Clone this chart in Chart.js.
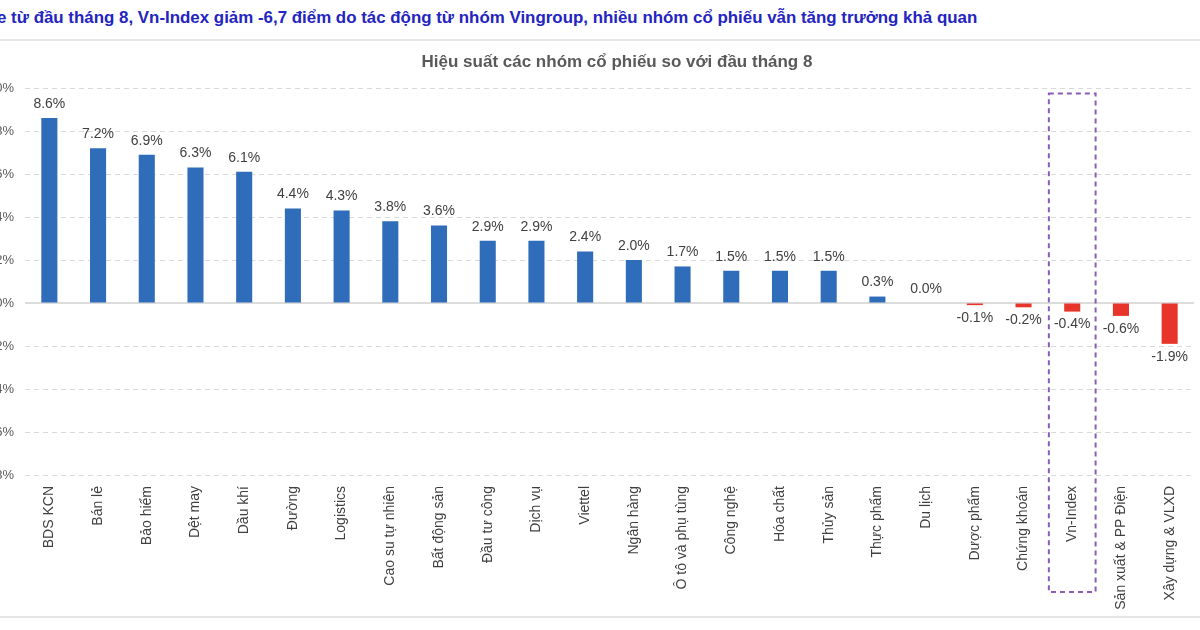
<!DOCTYPE html>
<html>
<head>
<meta charset="utf-8">
<script src="https://cdn.jsdelivr.net/npm/chart.js@4"></script>
<style>
  html, body { margin: 0; padding: 0; background: #fff; }
  body { width: 1200px; height: 630px; position: relative; overflow: hidden; font-family: "Liberation Sans", Arial, sans-serif; }
  #head { position: absolute; left: -3px; top: 8px; white-space: nowrap; font-size: 16.9px; font-weight: bold; color: #2424c0; }
  #topline { position: absolute; left: 0; top: 39px; width: 1200px; height: 2px; background: #e6e6e6; }
  #botline { position: absolute; left: 0; top: 616px; width: 1200px; height: 2px; background: #e6e6e6; }
  #title { position: absolute; left: 0; width: 1234px; top: 52px; text-align: center; font-size: 17px; font-weight: bold; color: #595959; white-space: nowrap; }
  #wrap { position: absolute; left: -30px; top: 42px; width: 1230px; height: 575px; }
</style>
</head>
<body>
<div id="head">e từ đầu tháng 8, Vn-Index giảm -6,7 điểm do tác động từ nhóm Vingroup, nhiều nhóm cổ phiếu vẫn tăng trưởng khả quan</div>
<div id="topline"></div>
<div id="wrap"><canvas id="graph01"></canvas></div>
<div id="title">Hiệu suất các nhóm cổ phiếu so với đầu tháng 8</div>
<div id="botline"></div>
<script>
// データ
const groups = ['BDS KCN', 'Bán lẻ', 'Bảo hiểm', 'Dệt may', 'Dầu khí', 'Đường', 'Logistics',
    'Cao su tự nhiên', 'Bất động sản', 'Đầu tư công', 'Dịch vụ', 'Viettel', 'Ngân hàng',
    'Ô tô và phụ tùng', 'Công nghệ', 'Hóa chất', 'Thủy sản', 'Thực phẩm', 'Du lịch',
    'Dược phẩm', 'Chứng khoán', 'Vn-Index', 'Sản xuất & PP Điện', 'Xây dựng & VLXD'];
const perf = [8.6, 7.2, 6.9, 6.3, 6.1, 4.4, 4.3, 3.8, 3.6, 2.9, 2.9, 2.4, 2.0,
    1.7, 1.5, 1.5, 1.5, 0.3, 0.0, -0.1, -0.2, -0.4, -0.6, -1.9];
const yMin = -8;
const yMax = 10;
const yStep = 2;
const highlight = 'Vn-Index';

// 値ラベル
const valueLabels = {
    id: 'valueLabels',
    afterDatasetsDraw(chart) {
        const ctx = chart.ctx;
        const meta = chart.getDatasetMeta(0);
        ctx.save();
        ctx.font = '14px "Liberation Sans", Arial, sans-serif';
        ctx.fillStyle = '#404040';
        ctx.textAlign = 'center';
        meta.data.forEach((bar, i) => {
            const v = perf[i];
            const txt = v.toFixed(1) + '%';
            if (v < 0) {
                ctx.textBaseline = 'top';
                ctx.fillText(txt, bar.x, bar.y + 6);
            } else {
                ctx.textBaseline = 'bottom';
                ctx.fillText(txt, bar.x, bar.y - 7);
            }
        });
        ctx.restore();
    }
};

// ゼロ線と Vn-Index の枠
const extras = {
    id: 'extras',
    beforeDatasetsDraw(chart) {
        const ctx = chart.ctx;
        const y = chart.scales.y;
        const y0 = y.getPixelForValue(0);
        ctx.save();
        ctx.strokeStyle = '#d0d0d0';
        ctx.lineWidth = 1.5;
        ctx.beginPath();
        ctx.moveTo(chart.chartArea.left, y0);
        ctx.lineTo(chart.chartArea.right, y0);
        ctx.stroke();
        ctx.restore();
    },
    afterDraw(chart) {
        const ctx = chart.ctx;
        const x = chart.scales.x, y = chart.scales.y;
        const idx = groups.indexOf(highlight);
        const cx = x.getPixelForValue(idx);
        const half = (x.getPixelForValue(1) - x.getPixelForValue(0)) * 0.48;
        const top = y.getPixelForValue(9.75);
        const bottom = chart.chartArea.bottom + 117;
        ctx.save();
        ctx.strokeStyle = '#8a5cb8';
        ctx.lineWidth = 2;
        ctx.setLineDash([5, 4]);
        ctx.strokeRect(cx - half, top, half * 2, bottom - top);
        ctx.restore();
    }
};

const ctx = document.getElementById('graph01').getContext('2d');

var myChart = new Chart(ctx, {
    type: 'bar',
    data: {
        labels: groups,
        datasets: [{
            data: perf,
            backgroundColor: perf.map(v => v < 0 ? '#e8352b' : '#2f6dba'),
            barPercentage: 0.33,
            categoryPercentage: 1.0
        }]
    },
    options: {
        responsive: true,
        maintainAspectRatio: false,
        animation: false,
        layout: { padding: { left: 0, right: 6, top: 46, bottom: 0 } },
        plugins: {
            legend: { display: false },
            tooltip: { enabled: false },
            title: { display: false }
        },
        scales: {
            x: {
                grid: { display: false },
                border: { display: false },
                ticks: {
                    maxRotation: 90,
                    minRotation: 90,
                    autoSkip: false,
                    padding: 3,
                    color: '#404040',
                    font: { family: '"Liberation Sans", Arial, sans-serif', size: 14 }
                },
                afterFit(scale) { scale.height = 142; }
            },
            y: {
                min: yMin,
                max: yMax,
                border: { display: false, dash: [5, 4] },
                grid: {
                    drawTicks: false,
                    color: c => (c.tick && c.tick.value === 0) ? 'rgba(0,0,0,0)' : '#d9d9d9',
                    lineWidth: 1
                },
                ticks: {
                    stepSize: yStep,
                    padding: 11,
                    color: '#595959',
                    font: { family: '"Liberation Sans", Arial, sans-serif', size: 13 },
                    callback: v => v + '%'
                },
                afterFit(scale) { scale.width = 55; }
            }
        }
    },
    plugins: [valueLabels, extras]
});
</script>
</body>
</html>
